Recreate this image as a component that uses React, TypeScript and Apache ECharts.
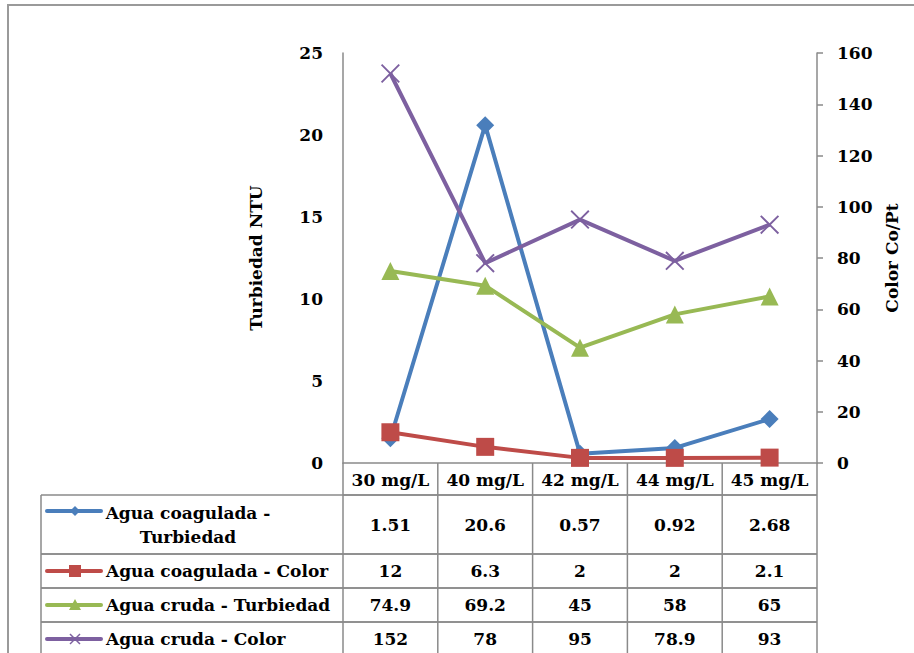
import React, { useEffect, useRef } from "react";
import * as echarts from "echarts";

// Dosis de coagulante (categorías del eje X)
const categories = ["30 mg/L", "40 mg/L", "42 mg/L", "44 mg/L", "45 mg/L"];

// Valores medidos por serie
const coagTurbiedad = [1.51, 20.6, 0.57, 0.92, 2.68];
const coagColor = [12, 6.3, 2, 2, 2.1];
const crudaTurbiedad = [74.9, 69.2, 45, 58, 65];
const crudaColor = [152, 78, 95, 78.9, 93];

const seriesNames = [
  "Agua coagulada - Turbiedad",
  "Agua coagulada - Color",
  "Agua cruda - Turbiedad",
  "Agua cruda - Color",
];
const seriesData = [coagTurbiedad, coagColor, crudaTurbiedad, crudaColor];
const seriesColors = ["#4a7ebb", "#be4b48", "#98b954", "#7d60a0"];

// Escalas de los ejes
const leftMin = 0, leftMax = 25, leftStep = 5;
const rightMin = 0, rightMax = 160, rightStep = 20;

const FONT = '"DejaVu Serif", "Liberation Serif", serif';
const FS = 17;
const GRAY = "#8a8a8a";

// Marcador en forma de aspa
const CROSS =
  "path://M0,0.07 L0.07,0 L0.5,0.43 L0.93,0 L1,0.07 L0.57,0.5 L1,0.93 L0.93,1 L0.5,0.57 L0.07,1 L0,0.93 L0.43,0.5 Z";

const symbols = ["diamond", "rect", "triangle", CROSS];
const symbolSizes = [18, 18, 18, 19];

export default function App() {
  const ref = useRef<HTMLDivElement>(null);

  useEffect(() => {
    if (!ref.current) return;
    const chart = echarts.init(ref.current, undefined, { renderer: "svg" });

    const gLeft = 343;
    const gTop = 53;
    const gWidth = 474;
    const gHeight = 410;
    const gRight = gLeft + gWidth;
    const gBottom = gTop + gHeight;
    const colW = gWidth / categories.length;

    // Tabla de datos bajo el gráfico
    const headerBottom = gBottom + 32;
    const rowHeights = [59, 34, 34, 34];
    const tableLeft = 41;
    const rowTops: number[] = [];
    let yy = headerBottom;
    rowHeights.forEach((h) => {
      rowTops.push(yy);
      yy += h;
    });
    const tableBottom = yy;

    const lineEl = (x1: number, y1: number, x2: number, y2: number) => ({
      type: "line",
      shape: { x1, y1, x2, y2 },
      style: { stroke: GRAY, lineWidth: 1.5 },
      silent: true,
    });

    const textEl = (
      text: string,
      x: number,
      y: number,
      align: string,
      extra: any = {}
    ) => ({
      type: "text",
      x,
      y,
      silent: true,
      style: {
        text,
        fill: "#000",
        font: `bold ${FS}px ${FONT}`,
        align,
        verticalAlign: "middle",
        textAlign: align,
        textVerticalAlign: "middle",
        ...extra,
      },
    });

    const graphics: any[] = [];

    // Marco exterior
    graphics.push({
      type: "rect",
      shape: { x: 8, y: 5, width: 940, height: 720 },
      style: { fill: "none", stroke: "#9a9a9a", lineWidth: 2 },
      silent: true,
      z: -1,
    });

    // Cabecera: divisiones verticales de las categorías
    for (let i = 0; i <= categories.length; i++) {
      const x = gLeft + i * colW;
      graphics.push(lineEl(x, gBottom, x, tableBottom));
    }
    graphics.push(lineEl(gLeft, headerBottom, gRight, headerBottom));
    graphics.push(lineEl(tableLeft, headerBottom, tableLeft, tableBottom));
    rowTops.forEach((t, r) => {
      graphics.push(lineEl(tableLeft, t, gRight, t));
      graphics.push(lineEl(tableLeft, t + rowHeights[r], gRight, t + rowHeights[r]));
    });

    // Filas: clave de leyenda, nombre y valores
    rowTops.forEach((t, r) => {
      const cy = t + rowHeights[r] / 2;
      const keyY = r === 0 ? t + 16 : cy;
      const color = seriesColors[r];
      graphics.push({
        type: "line",
        shape: { x1: 47, y1: keyY, x2: 101, y2: keyY },
        style: { stroke: color, lineWidth: 4, lineCap: "round" },
        silent: true,
      });
      const mx = 75;
      if (r === 0) {
        graphics.push({
          type: "polygon",
          shape: { points: [[mx, keyY - 5], [mx + 5, keyY], [mx, keyY + 5], [mx - 5, keyY]] },
          style: { fill: color },
          silent: true,
        });
      } else if (r === 1) {
        graphics.push({
          type: "rect",
          shape: { x: mx - 6, y: keyY - 6, width: 12, height: 12 },
          style: { fill: color },
          silent: true,
        });
      } else if (r === 2) {
        graphics.push({
          type: "polygon",
          shape: { points: [[mx, keyY - 6], [mx + 6, keyY + 5], [mx - 6, keyY + 5]] },
          style: { fill: color },
          silent: true,
        });
      } else {
        graphics.push({
          type: "line",
          shape: { x1: mx - 5, y1: keyY - 5, x2: mx + 5, y2: keyY + 5 },
          style: { stroke: color, lineWidth: 1.5 },
          silent: true,
        });
        graphics.push({
          type: "line",
          shape: { x1: mx - 5, y1: keyY + 5, x2: mx + 5, y2: keyY - 5 },
          style: { stroke: color, lineWidth: 1.5 },
          silent: true,
        });
      }

      if (r === 0) {
        const parts = seriesNames[0].split(" - ");
        graphics.push(
          textEl(`${parts[0]} -\n${parts[1]}`, 188, cy, "center", { lineHeight: 24 })
        );
      } else {
        graphics.push(textEl(seriesNames[r], 106, cy, "left"));
      }

      seriesData[r].forEach((v, i) => {
        graphics.push(textEl(String(v), gLeft + (i + 0.5) * colW, cy, "center"));
      });
    });

    const axisLabelStyle = {
      color: "#000",
      fontFamily: FONT,
      fontWeight: "bold",
      fontSize: FS,
    };

    chart.setOption({
      animation: false,
      backgroundColor: "#fff",
      grid: { left: gLeft, top: gTop, width: gWidth, height: gHeight },
      xAxis: {
        type: "category",
        data: categories,
        boundaryGap: true,
        axisLine: { lineStyle: { color: GRAY, width: 1.5 } },
        axisTick: { show: false },
        axisLabel: { ...axisLabelStyle, margin: 8, interval: 0, verticalAlign: "top" },
      },
      yAxis: [
        {
          type: "value",
          min: leftMin,
          max: leftMax,
          interval: leftStep,
          position: "left",
          splitLine: { show: false },
          axisLine: { show: true, lineStyle: { color: GRAY, width: 1.5 } },
          axisTick: { show: false },
          axisLabel: { ...axisLabelStyle, margin: 20 },
          name: "Turbiedad NTU",
          nameLocation: "middle",
          nameRotate: 90,
          nameGap: 79,
          nameTextStyle: { ...axisLabelStyle },
        },
        {
          type: "value",
          min: rightMin,
          max: rightMax,
          interval: rightStep,
          position: "right",
          splitLine: { show: false },
          axisLine: { show: true, lineStyle: { color: GRAY, width: 1.5 } },
          axisTick: { show: true, length: 6, lineStyle: { color: GRAY, width: 1.5 } },
          axisLabel: { ...axisLabelStyle, margin: 20 },
          name: "Color Co/Pt",
          nameLocation: "middle",
          nameRotate: 90,
          nameGap: 64,
          nameTextStyle: { ...axisLabelStyle },
        },
      ],
      series: seriesNames.map((name, i) => ({
        name,
        type: "line",
        data: seriesData[i],
        yAxisIndex: i === 0 ? 0 : 1,
        symbol: symbols[i],
        symbolSize: symbolSizes[i],
        showAllSymbol: true,
        lineStyle: { color: seriesColors[i], width: 4 },
        itemStyle: { color: seriesColors[i], borderWidth: 0 },
        emphasis: { disabled: true },
        z: 2 + i,
      })),
      graphic: { elements: graphics },
    });

    return () => chart.dispose();
  }, []);

  return (
    <div
      ref={ref}
      style={{ position: "fixed", left: 0, top: 0, width: 914, height: 653 }}
    />
  );
}
